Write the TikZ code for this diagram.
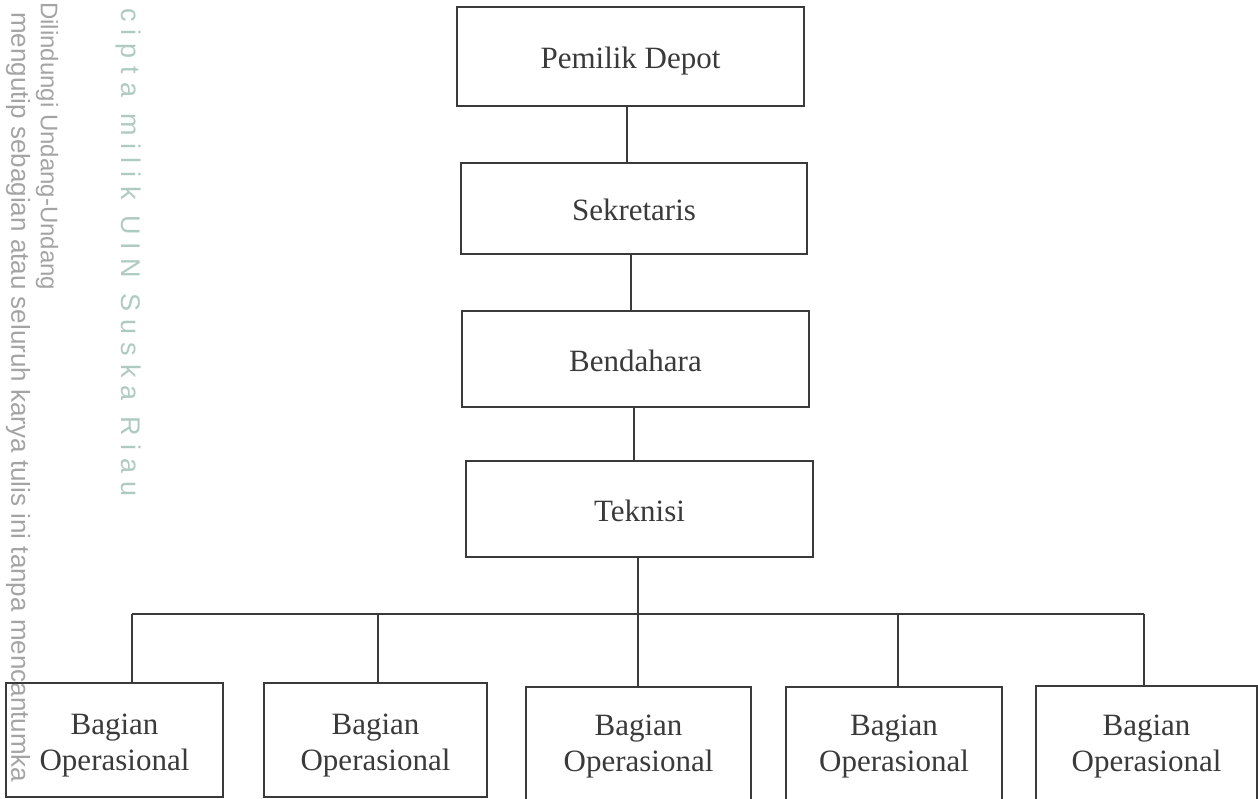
\documentclass[tikz,border=0pt]{standalone}
\usepackage{fontspec}
\setmainfont{Liberation Serif}
\newfontfamily\wmfont{Liberation Sans}
\newfontfamily\wmspaced[LetterSpace=30]{Liberation Sans}
\definecolor{ink}{HTML}{3A3A3A}
\definecolor{wmgray}{HTML}{A4A4A4}
\definecolor{wmteal}{HTML}{AFCBC1}
\tikzset{
  box/.style={draw=ink, line width=1.6pt, rectangle, inner sep=0pt, text=ink,
    font=\fontsize{31}{36}\selectfont},
  topbox/.style={box, text height=26pt, text depth=2pt},
  opbox/.style={box, align=center},
  link/.style={draw=ink, line width=1.6pt},
  wm/.style={rotate=-90, anchor=west, inner sep=0pt}
}
\begin{document}
\begin{tikzpicture}[x=1pt,y=-1pt]
\useasboundingbox (0,0) rectangle (1258,799);
\clip (0,0) rectangle (1258,799);
\fill[white] (0,0) rectangle (1258,799);
% watermark
\node[wm, text=wmgray, font=\wmfont\fontsize{26}{26}\selectfont] (wm1) at (18,12) {mengutip sebagian atau seluruh karya tulis ini tanpa mencantumka};
\node[wm, text=wmgray, font=\wmfont\fontsize{24}{24}\selectfont] (wm2) at (47,2) {Dilindungi Undang-Undang};
\node[wm, text=wmteal, font=\wmspaced\fontsize{27}{27}\selectfont] (wm3) at (128,8) {cipta milik UIN Suska Riau};
% top chain
\node[topbox, minimum width=347pt, minimum height=99pt] (P) at (630.5,56.5) {Pemilik Depot};
\node[topbox, minimum width=346pt, minimum height=91pt] (S) at (634,208.5) {Sekretaris};
\node[topbox, minimum width=347pt, minimum height=96pt] (Bd) at (635.5,359) {Bendahara};
\node[topbox, minimum width=347pt, minimum height=96pt] (T) at (639.5,509) {Teknisi};
% bottom row
\node[opbox, minimum width=217pt, minimum height=114pt, text height=66pt, text depth=6pt] (B1) at (114.5,740) {Bagian\\Operasional};
\node[opbox, minimum width=223pt, minimum height=114pt, text height=66pt, text depth=6pt] (B2) at (375.5,740) {Bagian\\Operasional};
\node[opbox, minimum width=225pt, minimum height=120pt] (B3) at (638.5,747) {Bagian\\Operasional};
\node[opbox, minimum width=216pt, minimum height=120pt] (B4) at (894,747) {Bagian\\Operasional};
\node[opbox, minimum width=221pt, minimum height=122pt] (B5) at (1146.5,747) {Bagian\\Operasional};
% connectors
\draw[link] (P.south -| 627,0) -- (S.north -| 627,0);
\draw[link] (S.south -| 631,0) -- (Bd.north -| 631,0);
\draw[link] (Bd.south -| 634,0) -- (T.north -| 634,0);
\coordinate (barL) at (132,614);
\coordinate (barR) at (1144,614);
\coordinate (barM) at (638,614);
\draw[link] (T.south -| barM) -- (barM);
\draw[link] (barL) -- (barR);
\draw[link] (barL) -- (B1.north -| barL);
\draw[link] (barL -| 378,0) -- (B2.north -| 378,0);
\draw[link] (barM) -- (B3.north -| barM);
\draw[link] (barL -| 898,0) -- (B4.north -| 898,0);
\draw[link] (barR) -- (B5.north -| barR);
\end{tikzpicture}
\end{document}
